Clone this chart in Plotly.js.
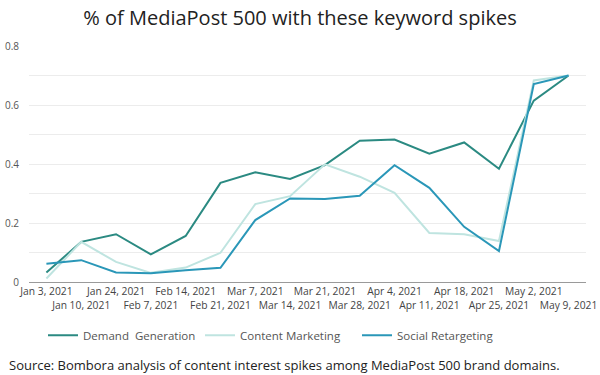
<!DOCTYPE html>
<html>
<head>
<meta charset="utf-8">
<script src="https://cdn.plot.ly/plotly-3.0.1.min.js"></script>
<style>html,body{margin:0;padding:0;background:#fff;}#chart{width:600px;height:375px;}</style>
</head>
<body>
<div id="chart"></div>
<script>
var weeks = ["Jan 3, 2021","Jan 10, 2021","Jan 24, 2021","Feb 7, 2021","Feb 14, 2021","Feb 21, 2021","Mar 7, 2021","Mar 14, 2021","Mar 21, 2021","Mar 28, 2021","Apr 4, 2021","Apr 11, 2021","Apr 18, 2021","Apr 25, 2021","May 2, 2021","May 9, 2021"];
var demandGeneration = [0.032,0.136,0.162,0.094,0.156,0.336,0.372,0.349,0.396,0.479,0.483,0.435,0.473,0.384,0.615,0.700];
var contentMarketing = [0.012,0.136,0.068,0.031,0.049,0.099,0.264,0.291,0.399,0.357,0.302,0.166,0.162,0.139,0.683,0.700];
var socialRetargeting = [0.062,0.074,0.032,0.030,0.040,0.048,0.210,0.283,0.281,0.292,0.396,0.319,0.187,0.105,0.671,0.700];
var yTicks = [0,0.1,0.2,0.3,0.4,0.5,0.6,0.7,0.8];
var yTickText = ["0","","0.2","","0.4","","0.6","","0.8"];
var seriesNames = ["Demand  Generation","Content Marketing","Social Retargeting"];
var titleText = "% of MediaPost 500 with these keyword spikes";
var sourceText = "Source: Bombora analysis of content interest spikes among MediaPost 500 brand domains.";

var xTickText = weeks.map(function(w,i){ return i % 2 === 0 ? w : "<br>" + w; });

var colors = ["#2b8a82","#bfe4e0","#2a97b8"];
var data = [demandGeneration, contentMarketing, socialRetargeting].map(function(vals,i){
  return {x: weeks, y: vals, type: "scatter", mode: "lines", name: seriesNames[i],
          line: {color: colors[i], width: 2}, hoverinfo: "skip"};
});

var layout = {
  width: 600, height: 375,
  margin: {l: 29, r: 14, t: 46, b: 93},
  paper_bgcolor: "#fff", plot_bgcolor: "#fff",
  font: {family: "Open Sans, sans-serif", color: "#555", size: 10},
  title: {text: titleText, font: {family: "Open Sans, sans-serif", size: 20, color: "#222"},
          x: 0.5, xanchor: "center", y: 1 - 18/375, yanchor: "middle", yref: "container"},
  xaxis: {type: "category", range: [-0.5, 15.5], tickmode: "array", tickvals: weeks, ticktext: xTickText,
          tickangle: 0, showgrid: false, showline: true, linecolor: "#9a9a9a", linewidth: 1,
          ticks: "", tickfont: {size: 10.3, color: "#444"},
          zeroline: false, fixedrange: true},
  yaxis: {range: [0, 0.8], tickmode: "array", tickvals: yTicks, ticktext: yTickText,
          showgrid: true, gridcolor: "#ececec", gridwidth: 1, zeroline: false, showline: false,
          ticks: "outside", ticklen: 7, tickcolor: "rgba(0,0,0,0)", tickfont: {size: 10, color: "#555"},
          fixedrange: true},
  showlegend: true,
  legend: {orientation: "h", x: (43-29)/557, xanchor: "left", y: (281.7-335)/235.7, yanchor: "middle",
           font: {size: 11.5, color: "#555"}, entrywidth: 112, entrywidthmode: "pixels",
           bgcolor: "rgba(0,0,0,0)", borderwidth: 0},
  annotations: [{text: sourceText, xref: "paper", yref: "paper", x: (7-29)/557, y: (281.7-365)/235.7,
                 xanchor: "left", yanchor: "middle", showarrow: false,
                 font: {family: "Open Sans, sans-serif", size: 13, color: "#222"}}]
};

Plotly.newPlot("chart", data, layout, {displayModeBar: false, staticPlot: true});
</script>
</body>
</html>
